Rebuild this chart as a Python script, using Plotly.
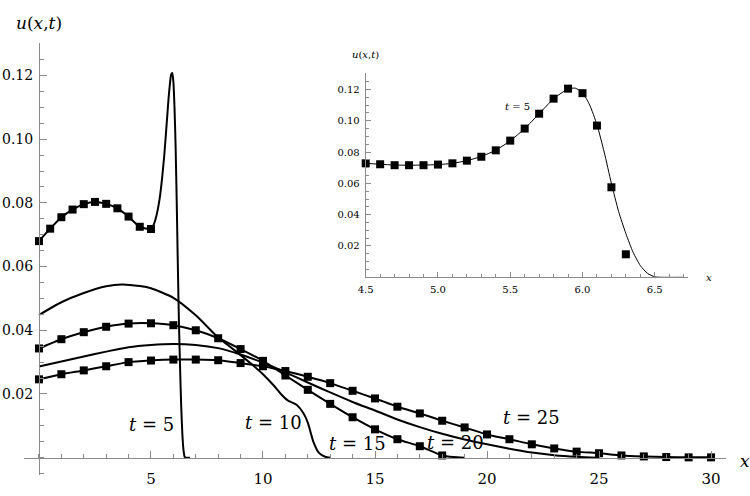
import plotly.graph_objects as go

# ---------------- data ----------------
t5_mark_x = [0, 0.5, 1, 1.5, 2, 2.5, 3, 3.5, 4, 4.5, 5]
t5_mark_y = [0.0680, 0.0719, 0.0755, 0.0779, 0.0796, 0.0803, 0.0797, 0.0783, 0.0757, 0.0725, 0.0718]
t5_tail_x = [5.1, 5.2, 5.3, 5.4, 5.5, 5.6, 5.7, 5.8, 5.9, 5.95, 6.0, 6.05, 6.1, 6.15, 6.2, 6.25, 6.3, 6.35, 6.4, 6.45, 6.5, 6.55, 6.74]
t5_tail_y = [0.0728, 0.0748, 0.0778, 0.0820, 0.0880, 0.0955, 0.1048, 0.1140, 0.1203, 0.1208, 0.1180, 0.1100, 0.0975,
             0.0800, 0.0600, 0.0420, 0.0280, 0.0160, 0.0075, 0.0025, 0.0003, 0.0, 0.0]

t10_x = [0, 1, 2, 3, 3.7, 4.5, 5, 6, 7, 8, 8.5, 9, 9.5, 10, 10.5, 10.8, 11.1, 11.5, 11.8, 12.0, 12.25, 12.5, 12.8, 13]
t10_y = [0.0448, 0.0488, 0.0517, 0.0538, 0.0544, 0.0539, 0.0532, 0.0502, 0.0447, 0.0377, 0.0350, 0.0322, 0.0293,
         0.0262, 0.0225, 0.0200, 0.0180, 0.0166, 0.0140, 0.0110, 0.0050, 0.0015, 0.0002, 0.0]

t15_x = [0, 1, 2, 3, 4, 5, 6, 7, 8, 9, 10, 11, 12, 13, 14, 15, 16, 17, 18]
t15_y = [0.0343, 0.0372, 0.0394, 0.0411, 0.0421, 0.0422, 0.0416, 0.0400, 0.0375, 0.0341, 0.0304, 0.0258, 0.0213,
         0.0169, 0.0127, 0.0089, 0.0058, 0.0036, 0.0007]
t15_end_x = [18, 18.5, 19]
t15_end_y = [0.0007, 0.0002, 0.0]

t20_x = [0, 1, 2, 3, 4, 5, 6, 7, 8, 9, 10, 11, 12, 13, 14, 15, 16, 17, 18, 19, 20, 21, 22, 23, 24, 25]
t20_y = [0.0286, 0.0302, 0.0318, 0.0333, 0.0347, 0.0354, 0.0357, 0.0354, 0.0344, 0.0324, 0.0298, 0.0268, 0.0236,
         0.0205, 0.0175, 0.0148, 0.0120, 0.0096, 0.0075, 0.0057, 0.0042, 0.0028, 0.0016, 0.0008, 0.0003, 0.0]

t25_x = [0, 1, 2, 3, 4, 5, 6, 7, 8, 9, 10, 11, 12, 13, 14, 15, 16, 17, 18, 19, 20, 21, 22, 23, 24, 25, 26, 27, 28, 29, 30]
t25_y = [0.0246, 0.0262, 0.0274, 0.0287, 0.0300, 0.0305, 0.0308, 0.0308, 0.0306, 0.0297, 0.0287, 0.0272, 0.0254,
         0.0234, 0.0210, 0.0186, 0.0160, 0.0139, 0.0116, 0.0095, 0.0073, 0.0058, 0.0042, 0.0029, 0.0019, 0.0014,
         0.0007, 0.0004, 0.0002, 0.0001, 0.0001]

ins_mark_x = [4.5, 4.6, 4.7, 4.8, 4.9, 5.0, 5.1, 5.2, 5.3, 5.4, 5.5, 5.6, 5.7, 5.8, 5.9, 6.0, 6.1, 6.2, 6.3]
ins_mark_y = [0.0728, 0.0722, 0.0716, 0.0716, 0.0716, 0.0720, 0.0728, 0.0745, 0.0770, 0.0811, 0.0873, 0.0950,
              0.1045, 0.1141, 0.1205, 0.1176, 0.0969, 0.0575, 0.0147]
ins_curve_x = [4.5, 4.6, 4.7, 4.8, 4.9, 5.0, 5.1, 5.2, 5.3, 5.4, 5.5, 5.6, 5.7, 5.8, 5.9, 5.95, 6.0, 6.05, 6.1,
               6.15, 6.2, 6.25, 6.3, 6.35, 6.4, 6.45, 6.5, 6.55, 6.7]
ins_curve_y = [0.0728, 0.0722, 0.0717, 0.0716, 0.0717, 0.0720, 0.0728, 0.0745, 0.0772, 0.0812, 0.0872, 0.0950,
               0.1045, 0.1140, 0.1203, 0.1208, 0.1180, 0.1100, 0.0975, 0.0800, 0.0600, 0.0420, 0.0280, 0.0160,
               0.0075, 0.0025, 0.0003, 0.0, 0.0]

main_xticks = [5, 10, 15, 20, 25, 30]
main_yticks = [0.02, 0.04, 0.06, 0.08, 0.10, 0.12]
ins_xticks = [4.5, 5.0, 5.5, 6.0, 6.5]
ins_yticks = [0.02, 0.04, 0.06, 0.08, 0.10, 0.12]

curve_labels = ["t = 5", "t = 10", "t = 15", "t = 20", "t = 25"]
curve_label_pos = [(5.04, 0.0103), (10.49, 0.0109), (14.24, 0.0046), (18.6, 0.0049), (22.0, 0.0125)]

# ---------------- figure ----------------
W, H = 750, 496
SERIF = "DejaVu Serif"
GRAY = "#8a8a8a"

fig = go.Figure()

def line(x, y, xa="x", ya="y", w=2.0):
    fig.add_trace(go.Scatter(x=x, y=y, mode="lines", xaxis=xa, yaxis=ya,
                             line=dict(color="black", width=w, shape="spline", smoothing=0.6),
                             cliponaxis=False, showlegend=False, hoverinfo="skip"))

def marks(x, y, xa="x", ya="y", s=8):
    fig.add_trace(go.Scatter(x=x, y=y, mode="markers", xaxis=xa, yaxis=ya,
                             marker=dict(symbol="square", size=s, color="black"),
                             cliponaxis=False, showlegend=False, hoverinfo="skip"))

line(t5_mark_x + t5_tail_x, t5_mark_y + t5_tail_y)
marks(t5_mark_x, t5_mark_y)
line(t10_x, t10_y)
line(t15_x + t15_end_x[1:], t15_y + t15_end_y[1:])
marks(t15_x, t15_y)
line(t20_x, t20_y)
line(t25_x, t25_y)
marks(t25_x, t25_y)

line(ins_curve_x, ins_curve_y, "x2", "y2", w=1.0)
marks(ins_mark_x, ins_mark_y, "x2", "y2", s=8)

xr = [-0.65, 30.65]
yr = [-0.0055, 0.1302]
xdom = [24.4 / W, 725.6 / W]
ydom = [(H - 475.2) / H, (H - 43.0) / H]
xpos_y = ydom[0] + (0 - yr[0]) / (yr[1] - yr[0]) * (ydom[1] - ydom[0])
ypos_x = xdom[0] + (0 - xr[0]) / (xr[1] - xr[0]) * (xdom[1] - xdom[0])

common = dict(showline=True, linecolor=GRAY, linewidth=1, showgrid=False, zeroline=False,
              ticks="inside", tickcolor=GRAY, tickwidth=1, tickmode="array", automargin=False)

fig.update_layout(
    width=W, height=H, margin=dict(l=0, r=0, t=0, b=0),
    paper_bgcolor="white", plot_bgcolor="rgba(0,0,0,0)",
    font=dict(family=SERIF),
    xaxis=dict(domain=xdom, range=xr, anchor="free", position=xpos_y, ticklen=7,
               tickvals=main_xticks, ticktext=[str(v) for v in main_xticks], ticklabelstandoff=7,
               tickfont=dict(family=SERIF, size=15, color="black"),
               minor=dict(tickmode="linear", tick0=0, dtick=1, ticks="inside", ticklen=4,
                          tickcolor=GRAY, tickwidth=1, showgrid=False), **common),
    yaxis=dict(domain=ydom, range=yr, anchor="free", position=ypos_x, ticklen=7,
               tickvals=main_yticks, ticktext=["%.2f" % v for v in main_yticks], ticklabelstandoff=3,
               tickfont=dict(family=SERIF, size=14, color="black"),
               minor=dict(tickmode="linear", tick0=0, dtick=0.005, ticks="inside", ticklen=4,
                          tickcolor=GRAY, tickwidth=1, showgrid=False), **common),
    xaxis2=dict(domain=[365.7 / W, 688.0 / W], range=[4.5, 6.73], anchor="y2", ticklen=5,
                tickvals=ins_xticks, ticktext=["%.1f" % v for v in ins_xticks], ticklabelstandoff=3,
                tickfont=dict(family=SERIF, size=10, color="black"),
                minor=dict(tickmode="linear", tick0=0, dtick=0.1, ticks="inside", ticklen=3,
                           tickcolor=GRAY, tickwidth=1, showgrid=False), **common),
    yaxis2=dict(domain=[(H - 277.3) / H, (H - 73.3) / H], range=[0, 0.1303], anchor="x2", ticklen=5,
                tickvals=ins_yticks, ticktext=["%.2f" % v for v in ins_yticks], ticklabelstandoff=3,
                tickfont=dict(family=SERIF, size=10, color="black"),
                minor=dict(tickmode="linear", tick0=0, dtick=0.005, ticks="inside", ticklen=3,
                           tickcolor=GRAY, tickwidth=1, showgrid=False), **common),
)

ann = []
for txt, (ax_, ay_) in zip(curve_labels, curve_label_pos):
    t, rest = txt.split(" ", 1)
    ann.append(dict(x=ax_, y=ay_, xref="x", yref="y", text="<i>%s</i> %s" % (t, rest), showarrow=False,
                    font=dict(family=SERIF, size=18, color="black"), xanchor="center", yanchor="middle"))
ann.append(dict(x=5.547, y=0.1088, xref="x2", yref="y2", text="<i>t</i> = 5", showarrow=False,
                font=dict(family=SERIF, size=10, color="black"), xanchor="center", yanchor="middle"))
ann.append(dict(x=39 / W, y=(H - 23) / H, xref="paper", yref="paper", text="<i>u</i>(<i>x</i>,<i>t</i>)",
                showarrow=False, font=dict(family=SERIF, size=17, color="black"), xanchor="center", yanchor="middle"))
ann.append(dict(x=745 / W, y=(H - 461) / H, xref="paper", yref="paper", text="<i>x</i>",
                showarrow=False, font=dict(family=SERIF, size=17, color="black"), xanchor="center", yanchor="middle"))
ann.append(dict(x=365.5 / W, y=(H - 55) / H, xref="paper", yref="paper", text="<i>u</i>(<i>x</i>,<i>t</i>)",
                showarrow=False, font=dict(family=SERIF, size=10, color="black"), xanchor="center", yanchor="middle"))
ann.append(dict(x=709 / W, y=(H - 277) / H, xref="paper", yref="paper", text="<i>x</i>",
                showarrow=False, font=dict(family=SERIF, size=10, color="black"), xanchor="center", yanchor="middle"))
fig.update_layout(annotations=ann)

fig.write_html("out.html")
